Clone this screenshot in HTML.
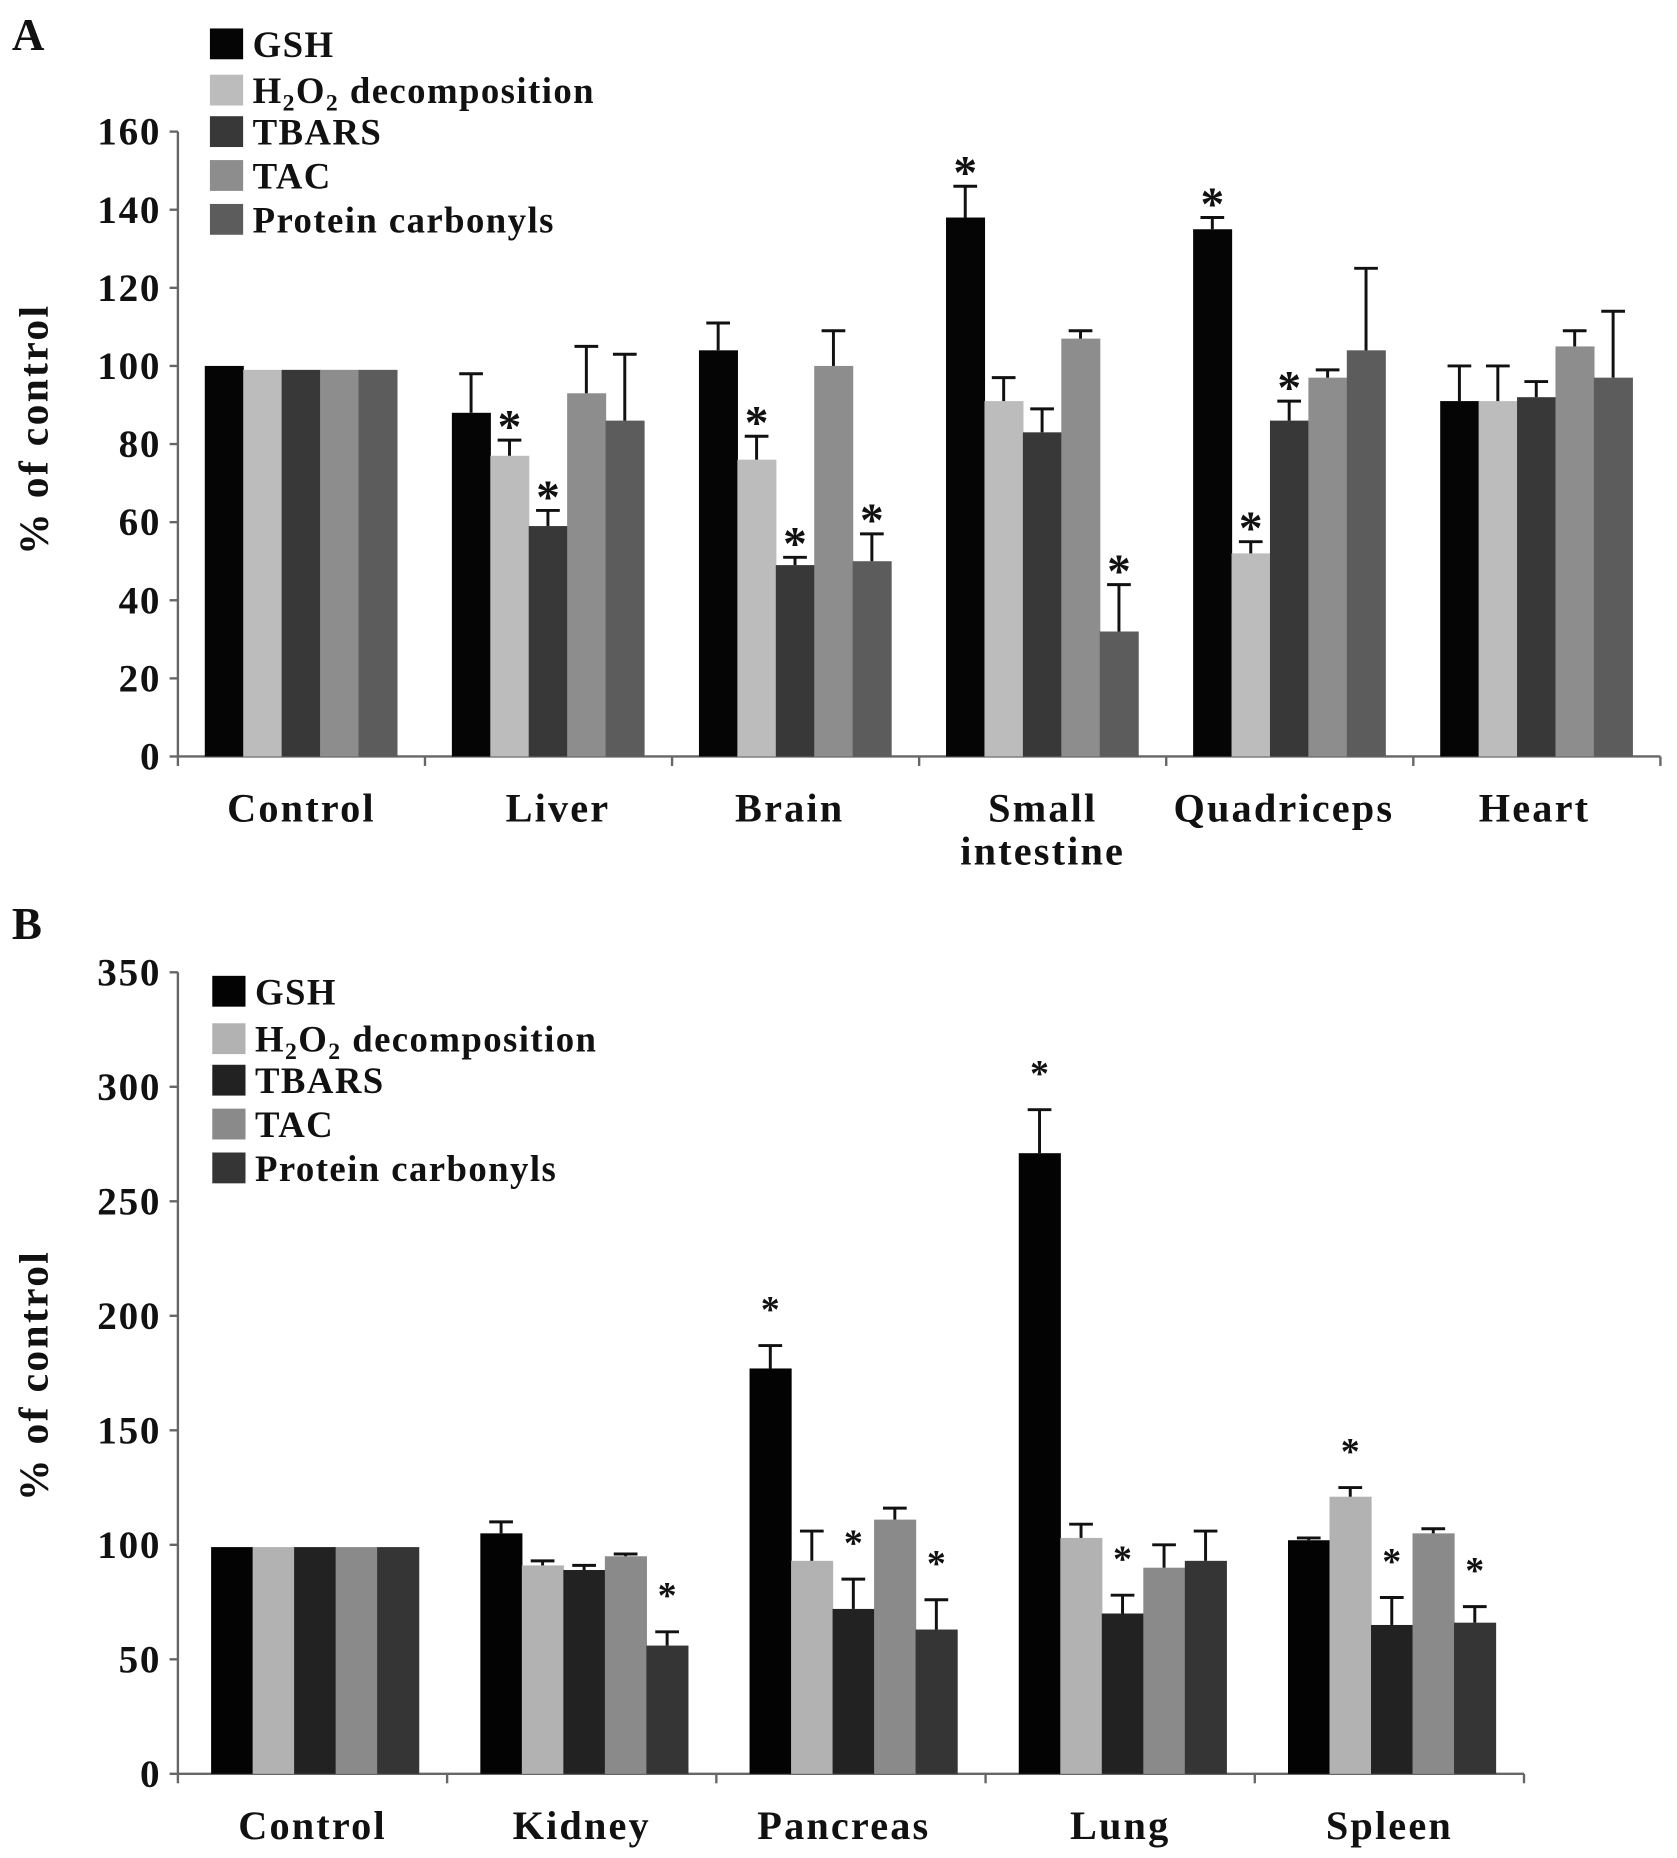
<!DOCTYPE html>
<html><head><meta charset="utf-8"><style>
html,body{margin:0;padding:0;background:#fff}
svg{display:block}
text{font-family:"Liberation Serif",serif;font-weight:bold;fill:#111}
</style></head><body>
<svg id="fig" width="1677" height="1858" viewBox="0 0 1414 1567" preserveAspectRatio="none" xmlns="http://www.w3.org/2000/svg"></svg>
<script>
const seriesNames = ["GSH","H2O2 decomposition","TBARS","TAC","Protein carbonyls"];
const catsA = ["Control","Liver","Brain","Small intestine","Quadriceps","Heart"];
const gshA = [100,88,104,138,135,91];
const h2o2A = [99,77,76,91,52,91];
const tbarsA = [99,59,49,83,86,92];
const tacA = [99,93,100,107,97,105];
const pcA = [99,86,50,32,104,97];
const errGshA = [100,98,111,146,138,100];
const errH2o2A = [99,81,82,97,55,100];
const errTbarsA = [99,63,51,89,91,96];
const errTacA = [99,105,109,109,99,109];
const errPcA = [99,103,57,44,125,114];
const sigA = [[0,0,0,0,0],[0,1,1,0,0],[0,1,1,0,1],[1,0,0,0,1],[1,1,1,0,0],[0,0,0,0,0]];
const ticksA = [0,20,40,60,80,100,120,140,160];

const catsB = ["Control","Kidney","Pancreas","Lung","Spleen"];
const gshB = [99,105,177,271,102];
const h2o2B = [99,91,93,103,121];
const tbarsB = [99,89,72,70,65];
const tacB = [99,95,111,90,105];
const pcB = [99,56,63,93,66];
const errGshB = [99,110,187,290,103];
const errH2o2B = [99,93,106,109,125];
const errTbarsB = [99,91,85,78,77];
const errTacB = [99,96,116,100,107];
const errPcB = [99,62,76,106,73];
const sigB = [[0,0,0,0,0],[0,0,0,0,1],[1,0,1,0,1],[1,0,1,0,0],[0,1,1,0,1]];
const ticksB = [0,50,100,150,200,250,300,350];

const NS="http://www.w3.org/2000/svg";
const svg=document.getElementById('fig');
function el(tag,attrs,parent){const e=document.createElementNS(NS,tag);for(const k in attrs)e.setAttribute(k,attrs[k]);(parent||svg).appendChild(e);return e;}
function txt(s,attrs,parent){const e=el('text',attrs,parent);e.textContent=s;return e;}

function panel(cfg){
  const g=el('g',{});
  
  
  const y=v=>cfg.y0-(v/cfg.max)*(cfg.y0-cfg.yTop);
  const L=txt(cfg.letter,{x:10,y:cfg.letterY,'font-size':38},g);
  
  
  const ax=el('line',{x1:cfg.ax,y1:cfg.yTop,x2:cfg.ax,y2:cfg.y0,stroke:'#666','stroke-width':2},g);
  
  
  cfg.ticks.forEach(t=>{
    el('line',{x1:cfg.ax-7,y1:y(t),x2:cfg.ax,y2:y(t),stroke:'#666','stroke-width':2},g);
    const tl=txt(String(t),{x:cfg.ax-14,y:y(t)+11,'font-size':33,'letter-spacing':1.5,'text-anchor':'end'},g);
    
    
  });
  const yt=txt('% of control',{x:0,y:0,'font-size':35,'letter-spacing':2,'text-anchor':'middle',transform:`translate(40,${cfg.titleY}) rotate(-90)`},g);
  
  
  const xa=el('line',{x1:cfg.ax,y1:cfg.y0,x2:cfg.axEnd,y2:cfg.y0,stroke:'#666','stroke-width':2},g);
  
  
  const n=cfg.cats.length;
  const step=(cfg.axEnd-cfg.ax)/n;
  for(let i=0;i<=n;i++){el('line',{x1:cfg.ax+i*step,y1:cfg.y0,x2:cfg.ax+i*step,y2:cfg.y0+8,stroke:'#666','stroke-width':2},g);}
  const series=cfg.series, errs=cfg.errs;
  cfg.cats.forEach((c,i)=>{
    const cx=cfg.ax+step*(i+0.5)+cfg.shift;
    const start=cx-2.5*cfg.bw;
    series.forEach((arr,s)=>{
      const x=start+s*cfg.bw;
      const r=el('rect',{x:x,y:y(arr[i]),width:cfg.bw+0.5,height:cfg.y0-y(arr[i]),fill:cfg.colors[s]},g);
      
      
      const ev=errs[s][i];
      if(ev>arr[i]+0.5){
        const mx=x+cfg.bw/2;
        el('line',{x1:mx,y1:y(arr[i]),x2:mx,y2:y(ev),stroke:'#111','stroke-width':2.5},g);
        el('line',{x1:mx-10,y1:y(ev),x2:mx+10,y2:y(ev),stroke:'#111','stroke-width':2.5},g);
      }
      if(cfg.sig[i][s]){
        const st=txt('*',{x:x+cfg.bw/2,y:y(ev)-cfg.starOff,'font-size':cfg.starSize,'text-anchor':'middle'},g);
        
        
      }
    });
    const parts=c.split(' ');
    parts.forEach((p,k)=>{
      const lab=txt(p,{x:cfg.ax+step*(i+0.5)+cfg.labShift[i],y:cfg.y0+55+k*36,'font-size':34,'letter-spacing':1.8,'text-anchor':'middle'},g);
      
      
    });
  });
  cfg.legY.forEach((ly,s)=>{
    const lg=el('g',{},g);
    
    
    el('rect',{x:cfg.legX,y:ly-13,width:28,height:26,fill:cfg.colors[s]},lg);
    const t=txt('',{x:cfg.legX+36,y:ly+11,'font-size':31,'letter-spacing':1.2},lg);
    if(s===1){
      t.innerHTML='H<tspan font-size="20" dy="6">2</tspan><tspan dy="-6">O</tspan><tspan font-size="20" dy="6">2</tspan><tspan dy="-6"> decomposition</tspan>';
    } else t.textContent=cfg.labels[s];
  });
}
const legLabels=["GSH","H2O2 decomposition","TBARS","TAC","Protein carbonyls"];

panel({name:'panel-a',letter:'A',letterY:42,ax:150,axEnd:1400,y0:638,yTop:111,max:160,ticks:ticksA,titleY:362,
  cats:catsA,series:[gshA,h2o2A,tbarsA,tacA,pcA],errs:[errGshA,errH2o2A,errTbarsA,errTacA,errPcA],sig:sigA,
  colors:['#050505','#bcbcbc','#383838','#8d8d8d','#5c5c5c'],bw:32.4,shift:-0.5,starOff:-2,starSize:40,
  labShift:[0,8,-5,0,-5,-2],labels:legLabels,
  legX:177,legY:[37,76,111,148,185]});
panel({name:'panel-b',letter:'B',letterY:792,ax:150,axEnd:1285,y0:1496,yTop:820,max:350,ticks:ticksB,titleY:1160,
  cats:catsB,series:[gshB,h2o2B,tbarsB,tacB,pcB],errs:[errGshB,errH2o2B,errTbarsB,errTacB,errPcB],sig:sigB,
  colors:['#030303','#b2b2b2','#222222','#8a8a8a','#353535'],bw:35,shift:2,starOff:20,starSize:32,
  labShift:[0,0,-6,0,0],labels:legLabels,
  legX:179,legY:[836,876,911,948,985]});
</script>
</body></html>
